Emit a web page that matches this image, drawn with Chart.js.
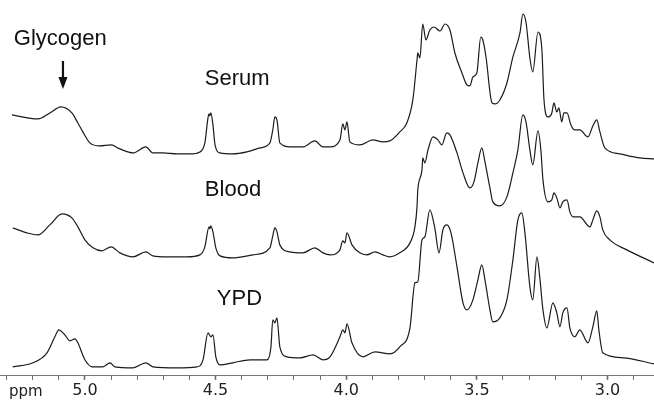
<!DOCTYPE html>
<html>
<head>
<meta charset="utf-8">
<script src="https://cdn.jsdelivr.net/npm/chart.js@4"></script>
<style>
  html, body { margin: 0; padding: 0; background: #fff; }
  #wrap { width: 654px; height: 401px; }
</style>
</head>
<body>
<div id="wrap"><canvas id="nmrChart" width="654" height="401"></canvas></div>
<script>
// chemical shift (ppm) and intensity (relative to each trace's baseline)
const serumPpm = [5.279, 5.180, 5.134, 5.092, 5.050, 5.027, 5.008, 4.981, 4.943, 4.900, 4.866, 4.816, 4.767, 4.740, 4.701, 4.648, 4.598, 4.560, 4.541, 4.529, 4.525, 4.522, 4.518, 4.510, 4.502, 4.483, 4.434, 4.380, 4.330, 4.292, 4.281, 4.273, 4.265, 4.254, 4.215, 4.166, 4.120, 4.089, 4.062, 4.024, 4.013, 4.005, 3.997, 3.986, 3.948, 3.898, 3.860, 3.833, 3.795, 3.768, 3.745, 3.729, 3.726, 3.718, 3.707, 3.695, 3.680, 3.664, 3.641, 3.622, 3.603, 3.584, 3.557, 3.538, 3.527, 3.515, 3.500, 3.485, 3.477, 3.465, 3.442, 3.431, 3.412, 3.385, 3.362, 3.335, 3.324, 3.312, 3.297, 3.286, 3.266, 3.251, 3.243, 3.228, 3.213, 3.205, 3.194, 3.186, 3.175, 3.167, 3.155, 3.140, 3.125, 3.106, 3.075, 3.056, 3.041, 3.029, 3.010, 2.953, 2.876, 2.822];
const serumInt = [40, 36, 42, 48, 42, 32, 23, 12, 9, 10, 6, 2, 8, 2, 2, 1, 1, 3, 12, 37, 41, 39, 42, 30, 10, 2, 1, 3, 7, 12, 25, 38, 35, 12, 8, 8, 14, 8, 8, 15, 31, 25, 33, 13, 10, 15, 13, 14, 23, 32, 55, 95, 102, 97, 131, 115, 125, 128, 124, 131, 125, 102, 82, 70, 69, 78, 82, 118, 115, 98, 52, 51, 55, 72, 98, 122, 141, 133, 97, 83, 123, 105, 55, 38, 42, 52, 43, 47, 33, 42, 42, 30, 25, 25, 18, 29, 35, 23, 7, 1, -3, -4];

const bloodPpm = [5.276, 5.222, 5.180, 5.134, 5.088, 5.050, 5.027, 5.000, 4.969, 4.935, 4.900, 4.866, 4.816, 4.767, 4.740, 4.686, 4.610, 4.560, 4.541, 4.525, 4.522, 4.518, 4.510, 4.499, 4.483, 4.434, 4.357, 4.292, 4.281, 4.273, 4.265, 4.254, 4.215, 4.166, 4.120, 4.089, 4.062, 4.024, 4.013, 4.005, 3.997, 3.978, 3.948, 3.921, 3.890, 3.860, 3.833, 3.795, 3.756, 3.737, 3.729, 3.726, 3.710, 3.707, 3.699, 3.687, 3.668, 3.649, 3.634, 3.615, 3.603, 3.576, 3.553, 3.527, 3.511, 3.496, 3.481, 3.469, 3.450, 3.439, 3.412, 3.385, 3.362, 3.343, 3.324, 3.312, 3.297, 3.286, 3.266, 3.255, 3.247, 3.228, 3.213, 3.205, 3.194, 3.182, 3.171, 3.155, 3.144, 3.132, 3.106, 3.067, 3.056, 3.041, 3.029, 3.018, 2.991, 2.926, 2.822];
const bloodInt = [29, 24, 22, 32, 43, 39, 30, 17, 9, 6, 10, 4, 0, 5, 1, 0, 0, 2, 10, 30, 28, 31, 25, 9, 1, -1, 2, 9, 21, 29, 25, 12, 5, 4, 9, 4, 2, 7, 16, 14, 24, 12, 4, 2, 5, 2, 0, 4, 14, 30, 50, 67, 87, 99, 94, 107, 120, 117, 112, 124, 122, 104, 84, 69, 75, 94, 109, 95, 69, 55, 51, 60, 84, 107, 142, 135, 107, 92, 126, 107, 77, 55, 57, 64, 59, 49, 55, 57, 45, 40, 40, 30, 37, 46, 40, 27, 17, 7, -6];

const ypdPpm = [5.276, 5.199, 5.145, 5.115, 5.100, 5.077, 5.057, 5.038, 5.027, 5.000, 4.973, 4.931, 4.904, 4.885, 4.816, 4.767, 4.740, 4.648, 4.571, 4.548, 4.529, 4.518, 4.510, 4.499, 4.483, 4.434, 4.369, 4.303, 4.288, 4.281, 4.273, 4.265, 4.254, 4.227, 4.177, 4.127, 4.089, 4.062, 4.024, 4.013, 4.005, 3.997, 3.978, 3.936, 3.890, 3.833, 3.795, 3.756, 3.737, 3.726, 3.710, 3.699, 3.680, 3.661, 3.645, 3.630, 3.615, 3.599, 3.576, 3.553, 3.538, 3.515, 3.496, 3.481, 3.469, 3.450, 3.439, 3.412, 3.385, 3.362, 3.343, 3.328, 3.316, 3.297, 3.286, 3.270, 3.259, 3.247, 3.232, 3.209, 3.194, 3.182, 3.171, 3.155, 3.144, 3.125, 3.106, 3.075, 3.056, 3.041, 3.033, 3.018, 2.941, 2.822];
const ypdInt = [0, 4, 14, 30, 37, 32, 26, 28, 24, 7, 0, 0, 4, 0, -1, 4, 0, -1, 0, 7, 34, 30, 32, 10, 2, 4, 7, 7, 20, 47, 44, 49, 20, 10, 9, 12, 7, 10, 30, 37, 34, 43, 24, 10, 15, 13, 20, 39, 84, 85, 127, 130, 157, 139, 114, 137, 142, 134, 100, 64, 57, 67, 87, 102, 87, 57, 45, 49, 67, 107, 147, 154, 134, 80, 67, 110, 89, 57, 39, 64, 54, 40, 54, 59, 39, 30, 37, 24, 40, 56, 37, 14, 9, 3];

const traceNames = ['Serum', 'Blood', 'YPD'];
const traceOffsets = [221, 119, 9];
const xTickLabels = ['5.0', '4.5', '4.0', '3.5', '3.0'];

const tracePpm = [serumPpm, bloodPpm, ypdPpm];
const traceInt = [serumInt, bloodInt, ypdInt];

// text labels placed in data coordinates [ppm, y]
const textLabels = [
  { text: 'Glycogen', ppm: 5.272, y: 331 },
  { text: 'Serum', ppm: 4.541, y: 291 },
  { text: 'Blood', ppm: 4.541, y: 180 },
  { text: 'YPD', ppm: 4.495, y: 71 }
];
const glycogenArrow = { ppm: 5.084, yTop: 315, yTip: 287 };

const datasets = traceNames.map((name, i) => ({
  label: name,
  data: tracePpm[i].map((p, j) => ({ x: p, y: traceOffsets[i] + traceInt[i][j] })),
  borderColor: '#1b1b1b',
  borderWidth: 1.2,
  pointRadius: 0,
  tension: 0.25,
  cubicInterpolationMode: 'monotone',
  fill: false
}));

const labelPlugin = {
  id: 'labels',
  afterDraw(chart) {
    const ctx = chart.ctx;
    const xs = chart.scales.x, ys = chart.scales.y;
    ctx.save();
    ctx.fillStyle = '#111';
    ctx.font = '22px "Liberation Sans", Arial, sans-serif';
    ctx.textBaseline = 'alphabetic';
    ctx.textAlign = 'left';
    textLabels.forEach(l => {
      ctx.fillText(l.text, xs.getPixelForValue(l.ppm), ys.getPixelForValue(l.y));
    });
    // arrow
    const ax = xs.getPixelForValue(glycogenArrow.ppm);
    const yTop = ys.getPixelForValue(glycogenArrow.yTop);
    const yTip = ys.getPixelForValue(glycogenArrow.yTip);
    ctx.strokeStyle = '#111';
    ctx.lineWidth = 2.2;
    ctx.beginPath();
    ctx.moveTo(ax, yTop);
    ctx.lineTo(ax, yTip - 8);
    ctx.stroke();
    ctx.beginPath();
    ctx.moveTo(ax - 4.5, yTip - 12);
    ctx.lineTo(ax + 4.5, yTip - 12);
    ctx.lineTo(ax, yTip);
    ctx.closePath();
    ctx.fill();
    // axis unit label
    ctx.font = '15px "DejaVu Sans", Verdana, sans-serif';
    ctx.fillStyle = '#222';
    ctx.textBaseline = 'middle';
    ctx.fillText('ppm', 9, xs.bottom - 9);
    ctx.restore();
  }
};

new Chart(document.getElementById('nmrChart'), {
  type: 'line',
  data: { datasets: datasets },
  options: {
    responsive: false,
    animation: false,
    layout: { padding: 0 },
    plugins: { legend: { display: false }, tooltip: { enabled: false } },
    scales: {
      x: {
        type: 'linear',
        reverse: true,
        min: 2.822,
        max: 5.325,
        afterBuildTicks(scale) {
          const t = [];
          for (let v = 29; v <= 53; v++) t.push({ value: v / 10 });
          scale.ticks = t;
        },
        ticks: {
          autoSkip: false,
          maxRotation: 0,
          padding: 1,
          color: '#222',
          font: { family: '"DejaVu Sans", Verdana, sans-serif', size: 16 },
          callback(value) {
            const s = Number(value).toFixed(1);
            return xTickLabels.includes(s) ? s : '';
          }
        },
        grid: {
          drawOnChartArea: false,
          drawTicks: true,
          tickLength: 4,
          tickColor: '#666',
          tickWidth: ctx => (xTickLabels.includes(Number(ctx.tick.value).toFixed(1)) ? 1.6 : 1)
        },
        border: { display: true, color: '#777', width: 1 }
      },
      y: {
        display: false,
        min: 0,
        max: 376
      }
    }
  },
  plugins: [labelPlugin]
});
</script>
</body>
</html>
